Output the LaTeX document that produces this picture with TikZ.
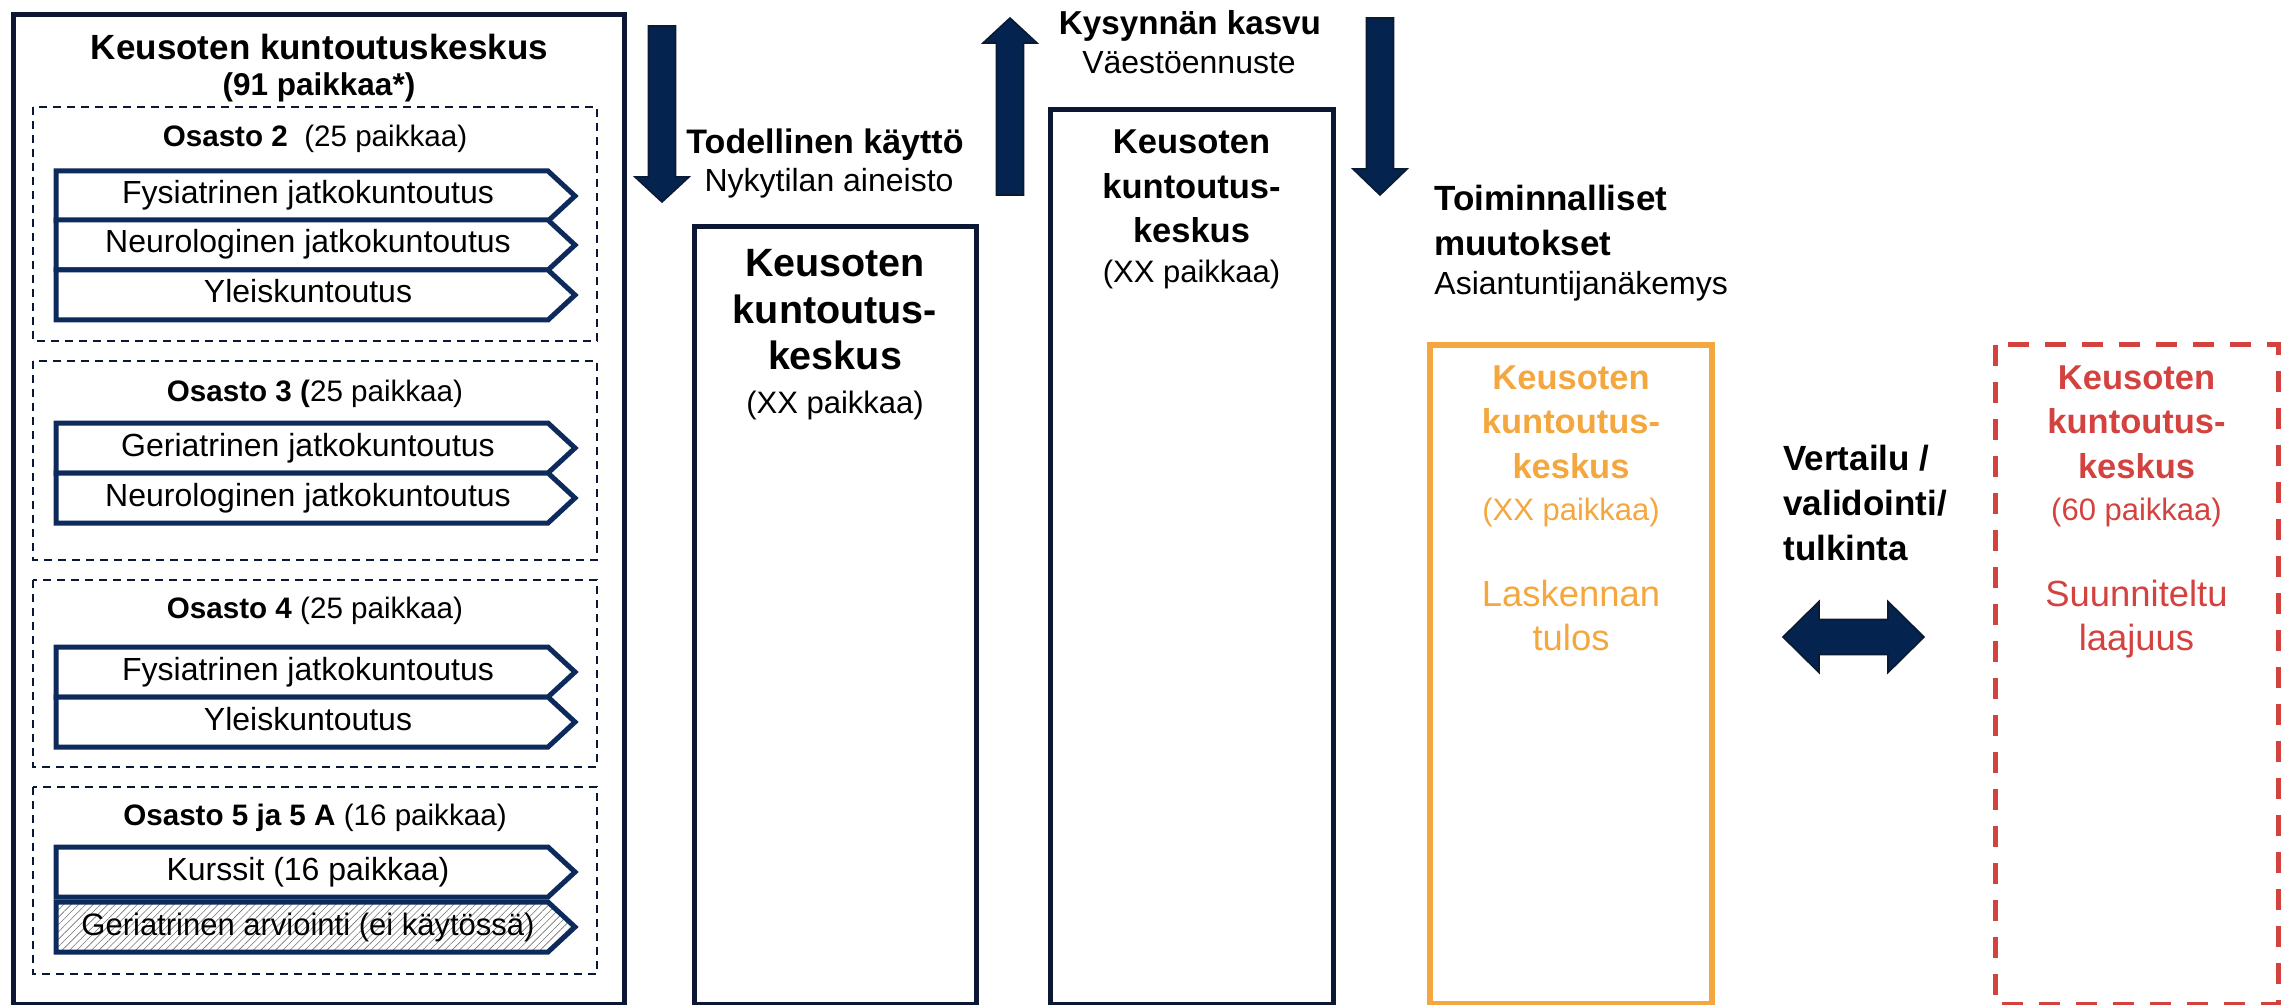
\documentclass[tikz,border=0pt]{standalone}
\usepackage{fontspec}
\setmainfont{Liberation Sans}
\usetikzlibrary{patterns.meta}

\definecolor{boxdark}{HTML}{0B1733}
\definecolor{chevblue}{HTML}{0D2A5C}
\definecolor{arrowfill}{HTML}{05234F}
\definecolor{arrowline}{HTML}{0A1A33}
\definecolor{calcorange}{HTML}{F4A73E}
\definecolor{planred}{HTML}{D3423F}

\tikzset{
  boxline/.style={draw=boxdark, line width=2.5pt},
  osasto/.style={draw=boxdark, line width=1pt, dash pattern=on 4pt off 3pt},
  chevron/.style={draw=chevblue, line width=2.5pt, fill=white, line join=miter},
  blockarrow/.style={fill=arrowfill, draw=arrowline, line width=0.8pt, line join=miter},
  txt/.style={anchor=base, inner sep=0pt, align=center},
  chevtxt/.style={txt, font=\fontsize{16}{19}\selectfont},
  ostitle/.style={txt, font=\fontsize{14.8}{18}\selectfont},
  heading/.style={txt, font=\fontsize{17.5}{22.5}\selectfont\bfseries},
  subhead/.style={txt, font=\fontsize{16}{19}\selectfont},
  boxtitle/.style={txt, font=\fontsize{17.25}{22.25}\selectfont\bfseries},
  boxsub/.style={txt, font=\fontsize{15.5}{19}\selectfont},
  boxnote/.style={txt, font=\fontsize{18.2}{22}\selectfont},
}

\begin{document}
\begin{tikzpicture}[x=0.5pt, y=-0.5pt]
    \useasboundingbox (0,0) rectangle (2295,1005);

    % Present centre with its wards (left)
    \draw[boxline] (13.5,14.5) rectangle (624,1004);
    \node[heading] (mainTitle) at (319.5,60) {Keusoten kuntoutuskeskus};
    \node[txt, font=\fontsize{15.75}{19}\selectfont\bfseries] (mainSub) at (319,96) {(91 paikkaa*)};

    % Osasto 2
    \draw[osasto] (33,107) rectangle (597,341);
    \node[ostitle] (os2) at (315,147) {\textbf{Osasto 2}\ \ (25 paikkaa)};
    \foreach \y/\lab [count=\i] in {171/Fysiatrinen jatkokuntoutus, 220/Neurologinen jatkokuntoutus, 270/Yleiskuntoutus}{
        \draw[chevron] (56,\y) -- (548,\y) -- (575,\y+25) -- (548,\y+50) -- (56,\y+50) -- cycle;
        \node[chevtxt] (os2r\i) at (308,\y+33) {\lab};
    }

    % Osasto 3
    \draw[osasto] (33,361) rectangle (597,560);
    \node[ostitle] (os3) at (315,401) {\textbf{Osasto 3 (}25 paikkaa)};
    \foreach \y/\lab [count=\i] in {423/Geriatrinen jatkokuntoutus, 473/Neurologinen jatkokuntoutus}{
        \draw[chevron] (56,\y) -- (548,\y) -- (575,\y+25) -- (548,\y+50) -- (56,\y+50) -- cycle;
        \node[chevtxt] (os3r\i) at (308,\y+33) {\lab};
    }

    % Osasto 4
    \draw[osasto] (33,580) rectangle (597,767);
    \node[ostitle] (os4) at (315,618) {\textbf{Osasto 4} (25 paikkaa)};
    \foreach \y/\lab [count=\i] in {647/Fysiatrinen jatkokuntoutus, 697/Yleiskuntoutus}{
        \draw[chevron] (56,\y) -- (548,\y) -- (575,\y+25) -- (548,\y+50) -- (56,\y+50) -- cycle;
        \node[chevtxt] (os4r\i) at (308,\y+33) {\lab};
    }

    % Osasto 5 ja 5 A
    \draw[osasto] (33,787) rectangle (597,974);
    \node[ostitle] (os5) at (315,825) {\textbf{Osasto 5 ja 5 A} (16 paikkaa)};
    \draw[chevron] (56,847) -- (548,847) -- (575,872) -- (548,897) -- (56,897) -- cycle;
    \node[chevtxt] (os5r1) at (308,880) {Kurssit (16 paikkaa)};
    \draw[chevron, pattern={Lines[angle=45, distance=2.6pt, line width=0.3pt]}, pattern color=black!55]
        (56,902) -- (548,902) -- (575,927) -- (548,952) -- (56,952) -- cycle;
    \node[chevtxt, font=\fontsize{15.5}{19}\selectfont] (os5r2) at (308,935) {Geriatrinen arviointi (ei käytössä)};

    % Actual use (multi-line nodes sit on their last line)
    \draw[blockarrow] (648.5,26) -- (675.5,26) -- (675.5,177) -- (689,177) -- (662,202) -- (635,177) -- (648.5,177) -- cycle;
    \node[heading, font=\fontsize{17}{22}\selectfont\bfseries] (useHead) at (825,154) {Todellinen käyttö};
    \node[subhead] (useSub) at (829,192) {Nykytilan aineisto};
    \draw[boxline] (694,227) rectangle (976,1004);
    \node[txt, font=\fontsize{19.75}{23.25}\selectfont\bfseries] (nowTitle) at (835,370) {Keusoten\\kuntoutus-\\keskus};
    \node[boxsub] (nowSub) at (835,413) {(XX paikkaa)};

    % Demand growth
    \draw[blockarrow] (996.5,195) -- (1023.5,195) -- (1023.5,43) -- (1037,43) -- (1010,18) -- (983,43) -- (996.5,43) -- cycle;
    \node[heading, font=\fontsize{16.6}{22}\selectfont\bfseries] (demandHead) at (1190,35) {Kysynnän kasvu};
    \node[subhead] (demandSub) at (1189,74) {Väestöennuste};
    \draw[boxline] (1050,110) rectangle (1333,1004);
    \node[boxtitle] (demandTitle) at (1191.5,243) {Keusoten\\kuntoutus-\\keskus};
    \node[boxsub] (demandNote) at (1191.5,283) {(XX paikkaa)};

    % Operational changes
    \draw[blockarrow] (1366.5,18) -- (1393.5,18) -- (1393.5,169) -- (1407,169) -- (1380,195) -- (1353,169) -- (1366.5,169) -- cycle;
    \node[heading, anchor=base west, align=left] (opsHead) at (1434,256) {Toiminnalliset\\muutokset};
    \node[subhead, anchor=base west] (opsSub) at (1434,295) {Asiantuntijanäkemys};

    % Calculated result
    \draw[draw=calcorange, line width=2.75pt] (1430,345) rectangle (1712,1004);
    \node[boxtitle, calcorange] (calcTitle) at (1571,478) {Keusoten\\kuntoutus-\\keskus};
    \node[boxsub, calcorange] (calcSub) at (1571,520) {(XX paikkaa)};
    \node[boxnote, calcorange] (calcNote) at (1571,650) {Laskennan\\tulos};

    % Comparison
    \node[heading, anchor=base west, align=left] (cmpHead) at (1783,560) {Vertailu /\\validointi/\\tulkinta};
    \draw[blockarrow] (1783,637) -- (1819,601.5) -- (1819,619.5) -- (1888,619.5) -- (1888,601.5) -- (1924,637)
        -- (1888,672.5) -- (1888,654.5) -- (1819,654.5) -- (1819,672.5) -- cycle;

    % Planned scope
    \draw[draw=planred, line width=2.5pt, dash pattern=on 10.5pt off 8pt] (1995,345) rectangle (2278,1004);
    \node[boxtitle, planred] (planTitle) at (2136.5,478) {Keusoten\\kuntoutus-\\keskus};
    \node[boxsub, planred] (planSub) at (2136.5,520) {(60 paikkaa)};
    \node[boxnote, planred] (planNote) at (2136.5,650) {Suunniteltu\\laajuus};
\end{tikzpicture}
\end{document}
